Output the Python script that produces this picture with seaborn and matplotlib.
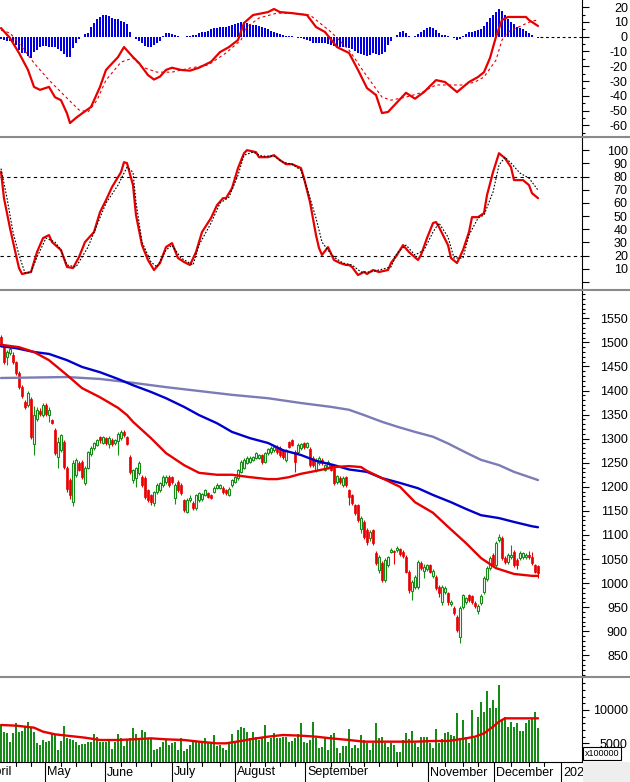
import numpy as np
import pandas as pd
import matplotlib
matplotlib.use("Agg")
import matplotlib.pyplot as plt
import seaborn as sns
from matplotlib.patches import Rectangle
from matplotlib.lines import Line2D

# ------------------------------------------------------------------ data
# daily candles (index 0 = first visible session, ~8 Apr 2022)
open_ = [1512, 1490, 1470, 1478, 1474, 1459, 1436, 1407, 1376, 1370,
         1382, 1288, 1340, 1358, 1350, 1370, 1350, 1338, 1318, 1262,
         1276, 1293, 1239, 1214, 1168, 1225, 1250, 1252, 1208, 1240,
         1268, 1280, 1287, 1303, 1291, 1301, 1289, 1298, 1290, 1296,
         1302, 1314, 1303, 1262, 1214, 1218, 1229, 1220, 1218, 1193,
         1183, 1166, 1190, 1193, 1204, 1210, 1220, 1220, 1177, 1210,
         1204, 1172, 1148, 1172, 1166, 1156, 1172, 1174, 1183, 1187,
         1183, 1190, 1198, 1198, 1198, 1193, 1183, 1204, 1210, 1218,
         1231, 1239, 1250, 1252, 1256, 1260, 1260, 1266, 1252, 1270,
         1272, 1276, 1283, 1281, 1276, 1256, 1293, 1297, 1272, 1272,
         1280, 1290, 1283, 1278, 1260, 1235, 1250, 1256, 1235, 1241,
         1245, 1240, 1210, 1218, 1204, 1220, 1193, 1183, 1162, 1162,
         1112, 1127, 1110, 1093, 1110, 1062, 1027, 1042, 1006, 1037,
         1065, 1066, 1068, 1070, 1064, 1054, 1023, 983, 992, 992,
         1042, 1025, 1030, 1037, 1014, 1013, 992, 960, 981, 979,
         956, 948, 929, 888, 950, 960, 975, 973, 958, 942,
         958, 982, 1008, 1031, 1058, 1037, 1090, 1094, 1052, 1044,
         1054, 1065, 1048, 1052, 1054, 1054, 1058, 1054, 1037, 1035]
high = [1516, 1494, 1484, 1490, 1480, 1462, 1440, 1412, 1380, 1398,
        1386, 1368, 1366, 1364, 1374, 1374, 1366, 1340, 1322, 1303,
        1310, 1298, 1243, 1218, 1256, 1259, 1254, 1256, 1243, 1275,
        1284, 1294, 1300, 1306, 1306, 1304, 1306, 1301, 1300, 1313,
        1318, 1318, 1306, 1266, 1238, 1242, 1254, 1224, 1222, 1196,
        1186, 1192, 1207, 1211, 1224, 1224, 1224, 1223, 1207, 1214,
        1208, 1175, 1176, 1182, 1170, 1186, 1190, 1188, 1196, 1190,
        1186, 1201, 1207, 1206, 1201, 1196, 1199, 1217, 1223, 1238,
        1255, 1259, 1263, 1263, 1265, 1273, 1269, 1269, 1273, 1281,
        1284, 1286, 1286, 1284, 1279, 1279, 1296, 1300, 1276, 1290,
        1292, 1293, 1294, 1282, 1263, 1259, 1263, 1259, 1248, 1256,
        1248, 1244, 1225, 1222, 1222, 1223, 1196, 1186, 1165, 1165,
        1140, 1131, 1114, 1110, 1113, 1066, 1058, 1046, 1052, 1057,
        1073, 1068, 1077, 1073, 1068, 1058, 1027, 1006, 1017, 1048,
        1046, 1040, 1040, 1040, 1030, 1016, 995, 995, 994, 982,
        964, 952, 933, 952, 978, 972, 978, 976, 962, 956,
        977, 1014, 1035, 1056, 1062, 1087, 1102, 1098, 1056, 1062,
        1079, 1068, 1052, 1066, 1065, 1062, 1066, 1065, 1040, 1038]
low = [1490, 1456, 1453, 1474, 1456, 1432, 1404, 1384, 1362, 1365,
       1300, 1266, 1336, 1348, 1346, 1348, 1334, 1330, 1266, 1240,
       1272, 1238, 1190, 1175, 1160, 1220, 1232, 1216, 1204, 1236,
       1265, 1276, 1284, 1292, 1288, 1287, 1280, 1285, 1287, 1266,
       1298, 1304, 1286, 1226, 1208, 1200, 1225, 1200, 1175, 1168,
       1162, 1160, 1186, 1190, 1200, 1206, 1200, 1206, 1165, 1190,
       1184, 1148, 1145, 1168, 1152, 1152, 1168, 1170, 1180, 1176,
       1174, 1187, 1195, 1195, 1186, 1184, 1180, 1200, 1207, 1214,
       1228, 1236, 1247, 1249, 1253, 1257, 1257, 1248, 1249, 1267,
       1269, 1273, 1268, 1262, 1258, 1252, 1280, 1284, 1230, 1268,
       1277, 1279, 1280, 1242, 1241, 1231, 1246, 1246, 1232, 1238,
       1232, 1204, 1206, 1206, 1200, 1200, 1162, 1162, 1141, 1127,
       1105, 1092, 1080, 1088, 1080, 1038, 1020, 1002, 1002, 1033,
       1062, 1040, 1064, 1056, 1052, 1020, 980, 965, 988, 988,
       1028, 1010, 1026, 1020, 1010, 985, 972, 955, 978, 955,
       952, 934, 898, 876, 946, 956, 960, 956, 948, 935,
       955, 978, 1004, 1027, 1033, 1033, 1086, 1048, 1040, 1040,
       1050, 1033, 1030, 1048, 1050, 1050, 1050, 1038, 1020, 1010]
close = [1495, 1460, 1480, 1486, 1460, 1437, 1408, 1388, 1366, 1395,
         1303, 1349, 1360, 1352, 1370, 1352, 1360, 1333, 1270, 1293,
         1307, 1241, 1195, 1183, 1250, 1256, 1235, 1220, 1239, 1272,
         1281, 1290, 1298, 1297, 1303, 1291, 1302, 1288, 1297, 1310,
         1314, 1308, 1289, 1231, 1235, 1239, 1250, 1204, 1179, 1172,
         1168, 1189, 1204, 1208, 1220, 1220, 1204, 1210, 1204, 1193,
         1187, 1152, 1172, 1177, 1156, 1183, 1187, 1185, 1193, 1179,
         1177, 1198, 1204, 1204, 1189, 1187, 1196, 1214, 1220, 1235,
         1252, 1256, 1260, 1260, 1262, 1270, 1266, 1252, 1270, 1278,
         1281, 1283, 1272, 1266, 1262, 1276, 1283, 1287, 1252, 1287,
         1289, 1282, 1290, 1245, 1245, 1256, 1260, 1250, 1245, 1252,
         1235, 1208, 1222, 1210, 1218, 1204, 1179, 1166, 1145, 1131,
         1135, 1096, 1085, 1106, 1083, 1042, 1054, 1007, 1048, 1054,
         1069, 1064, 1073, 1060, 1056, 1023, 985, 1002, 1013, 1044,
         1031, 1033, 1037, 1023, 1026, 990, 979, 992, 990, 960,
         960, 938, 902, 948, 975, 969, 965, 960, 952, 952,
         973, 1010, 1031, 1052, 1037, 1083, 1096, 1052, 1044, 1058,
         1058, 1037, 1037, 1062, 1062, 1058, 1054, 1042, 1023, 1021]
# volume, in units of 100000 shares
volume = [7750, 6750, 6500, 5250, 6500, 8000, 6750, 6850, 7500, 8250,
          7250, 6750, 5000, 4750, 5500, 5250, 5350, 6500, 6250, 4000,
          5350, 7600, 5750, 5650, 5500, 5250, 4750, 4900, 4900, 5250,
          5150, 6350, 6000, 5250, 5250, 5250, 5500, 4150, 5250, 6350,
          5750, 4650, 5500, 5850, 7350, 6350, 5750, 7000, 6650, 5750,
          5750, 4000, 4150, 4500, 5250, 5500, 4750, 5000, 5250, 4000,
          5850, 3850, 4150, 4750, 5250, 5350, 5250, 5250, 5850, 5250,
          5000, 6250, 4650, 4750, 4250, 4000, 5000, 6350, 5350, 7000,
          7500, 7250, 6650, 5750, 6750, 6000, 5500, 5750, 7750, 5250,
          5850, 6500, 5850, 5850, 6000, 6000, 5250, 5350, 5850, 6350,
          8000, 5250, 5000, 5500, 8250, 5750, 4250, 4500, 6000, 4000,
          6250, 6500, 4250, 3500, 4650, 4650, 7150, 4250, 4750, 4350,
          6250, 5500, 5000, 4000, 5000, 8000, 5750, 6000, 5000, 4500,
          5000, 4750, 3650, 3650, 5500, 6500, 5650, 6850, 5000, 4500,
          6000, 6000, 6000, 5000, 4250, 7150, 5000, 5650, 6500, 6650,
          6250, 6100, 9500, 5750, 8500, 6000, 5000, 10000, 5750, 9000,
          11250, 9650, 12850, 10250, 11500, 10250, 13750, 8500, 9000, 7500,
          8250, 7500, 8000, 6850, 6850, 8000, 8500, 8750, 9750, 7250]
# MACD histogram, one bar per session
macd_hist = [-1.8, -2.3, -2.7, -2.7, -3.4, -5.6, -9, -11.3, -11.3, -13.1,
             -14.7, -10.2, -9, -6.8, -6.3, -6.3, -6.8, -6.8, -7.2, -8.6,
             -9.5, -11.8, -13.6, -14, -7.9, -4.5, -1.8, -0.5, 1.6, 2.3,
             6.8, 9.5, 11.8, 13.6, 14.7, 14.7, 14, 12.9, 12, 11.8,
             10.8, 9.9, 8.6, 3.4, -0.5, -1.8, -2.7, -4.5, -6.3, -6.8,
             -6.8, -5.6, -4.1, -2.7, 0.5, 2.3, 2.3, 1.6, 0.9, 0.5,
             -0.5, -0.5, 0.5, 0.5, 0.9, 1.4, 2.3, 2.9, 3.4, 4.1,
             5, 5.6, 6.1, 6.3, 6.3, 6.3, 7.2, 7.9, 8.6, 9.5,
             10.2, 10.2, 9.5, 8.6, 8.1, 7.7, 7, 6.3, 5.6, 5,
             4.1, 3.2, 2.5, 1.8, 1.1, 0.5, 0.5, 0.7, 0, -0.9,
             -1.1, -1.6, -2.3, -3.2, -4.1, -4.5, -4.5, -4.1, -4.5, -5,
             -5.6, -6.3, -6.8, -6.8, -6.8, -6.8, -7.5, -8.6, -9.7, -10.8,
             -11.8, -12.7, -13.1, -12.4, -11.3, -11.8, -12.4, -11.8, -10.2, -5.6,
             -2.7, -0.5, 1.4, 2.9, 4.1, 2.3, 0.7, 0, 0.5, 1.8,
             2.9, 4.5, 5.9, 6.3, 5.9, 4.5, 2.7, 1.4, 0.9, 0.5,
             -0.5, -1.1, -2.3, -1.4, 0.5, 2, 2.9, 3.4, 3.8, 4.3,
             5, 7.2, 9.9, 12.4, 14.5, 16.5, 18.8, 17.6, 14.7, 11.8,
             9.9, 8.6, 6.8, 5.6, 5, 4.1, 2.7, 0.9, -0.5, -1.1]

# line series read at selected sessions (session index, value)
macd_idx = [0, 3, 6, 9, 11, 13, 16, 18, 20, 22, 23, 25, 27, 30, 33, 35, 39, 41, 44, 46,
            49, 51, 53, 55, 57, 60, 63, 66, 70, 73, 76, 79, 81, 84, 89, 91, 93, 97, 102, 105,
            108, 112, 116, 119, 122, 125, 127, 129, 135, 138, 141, 145, 148, 152, 156, 159, 161, 163, 165, 167,
            169, 175, 176, 179]
macd_val = [5.9, -0.9, -11, -22.5, -34, -36, -34, -41, -43, -52, -58.5, -55, -52, -47.6, -34, -22.5, -13.8, -7, -13.8, -17.8,
            -26, -29, -27, -22.5, -21, -22.5, -23, -21, -17, -10.4, -7, -2.2, 9.3, 14.7, 16.7, 18.8, 16.7, 16, 14.7, 6.6,
            3.2, -7, -11, -22.5, -34.8, -39.5, -51.7, -51, -38, -42, -37.5, -29.4, -30.7, -37.5, -30.7, -27.3, -24, -14.4, 0, 11.3,
            13.4, 13.4, 11.3, 7.3]
signal_idx = [0, 3, 6, 11, 16, 22, 26, 29, 32, 35, 40, 44, 47, 52, 57, 63, 69, 75, 80, 82,
              86, 92, 97, 103, 110, 116, 121, 127, 130, 135, 140, 145, 149, 154, 158, 161, 165, 167, 169, 174,
              177, 179]
signal_val = [4.5, 2.5, -4.3, -17.8, -29.4, -41.6, -49.6, -51, -43, -29.4, -17.2, -14.4, -20.5, -24, -24, -21.2, -19.2, -11, -2.2, 6.6,
              12.7, 16, 16, 14.7, 3.2, -9, -24, -40.9, -43, -40.9, -38, -32.7, -32.7, -32.7, -30.7, -27.3, -15.8, -2.2, 3.2, 8,
              10.6, 11.3]
stoch_k_idx = [0, 1, 3, 5, 6, 7, 10, 12, 14, 16, 17, 20, 22, 24, 26, 28, 31, 33, 35, 37,
               40, 41, 42, 44, 45, 47, 49, 51, 53, 55, 57, 59, 61, 63, 65, 67, 70, 72, 74, 75,
               77, 79, 81, 82, 85, 86, 89, 91, 93, 95, 97, 100, 101, 103, 105, 106, 107, 109, 111, 113,
               115, 116, 117, 119, 121, 122, 124, 126, 129, 130, 132, 134, 136, 139, 140, 142, 144, 145, 146, 149,
               150, 152, 154, 156, 157, 159, 161, 162, 164, 166, 168, 170, 171, 174, 176, 177, 179]
stoch_k_val = [83.6, 63.6, 40.9, 20.5, 10.6, 6.1, 7.6, 22.7, 33.3, 35.6, 30.3, 24.2, 11.4, 10.6, 18.9, 30.3, 37.9, 53, 62.1, 72,
               83.3, 90.9, 90.2, 73.5, 50.8, 28, 16.7, 9.1, 14.4, 26.5, 29.5, 18.2, 15.2, 12.9, 22.7, 37.9, 48.5, 58.3, 63.6, 63.6,
               71.2, 86.4, 97.7, 100, 98.5, 94.7, 94.7, 96.2, 92.4, 89.4, 89.4, 86.4, 78.8, 60.6, 35.6, 25.8, 20.5, 26.5, 16.7, 14.4,
               12.9, 12.9, 11.4, 5.3, 7.6, 6.1, 9.1, 7.6, 9.1, 14.4, 20.5, 28, 22.7, 16.7, 20.5, 33.3, 44.7, 45.5, 41.7, 28,
               18.2, 14.4, 24.2, 37.9, 49.2, 49.2, 52.3, 65.9, 83.3, 97.7, 93.9, 87.1, 77.3, 77.3, 73.5, 67.4, 63.6]
stoch_d_idx = [0, 2, 4, 6, 8, 10, 12, 15, 18, 20, 22, 25, 29, 32, 35, 39, 42, 44, 45, 47,
               50, 52, 55, 57, 60, 64, 66, 70, 73, 76, 79, 81, 84, 87, 91, 94, 97, 100, 102, 105,
               107, 109, 111, 114, 117, 120, 123, 126, 130, 132, 135, 138, 141, 144, 146, 149, 151, 154, 156, 159,
               161, 164, 166, 168, 170, 173, 176, 179]
stoch_d_val = [86, 63.6, 37.9, 20.5, 6.8, 7.6, 18.9, 33.3, 30.3, 24.2, 12.9, 11.4, 26.5, 43.2, 59.8, 73.5, 87.1, 83.3, 60.6, 30.3,
               15.2, 11.4, 24.2, 28, 18.2, 12.9, 28, 44.7, 59.8, 64.4, 81, 96.2, 98.5, 95.5, 95.5, 90.9, 89.4, 84.8, 71.2, 48.5,
               30.3, 24.2, 18.9, 14.4, 12.9, 7.6, 7.6, 9.1, 11.4, 22, 28, 20.5, 24.2, 37.9, 44.7, 34.1, 18.2, 18.2, 35.6, 48.5,
               50.8, 68.2, 88.6, 94.7, 90.2, 82.6, 78.8, 69.7]
ma_short_idx = [0, 6, 11, 16, 22, 27, 33, 39, 42, 44, 50, 55, 61, 66, 72, 77, 83, 89, 92, 96,
                100, 105, 111, 116, 120, 122, 127, 133, 138, 144, 149, 155, 160, 165, 171, 177, 179]
ma_short_val = [1495, 1490, 1480, 1463, 1432, 1405, 1386, 1364, 1349, 1335, 1301, 1270, 1245, 1229, 1225, 1225, 1220, 1216, 1216, 1220,
                1227, 1233, 1241, 1243, 1241, 1233, 1218, 1200, 1168, 1146, 1117, 1083, 1052, 1031, 1019, 1015, 1015]
ma_mid_idx = [0, 5, 11, 16, 22, 27, 33, 39, 44, 50, 55, 61, 66, 72, 77, 83, 89, 94, 100, 105,
              111, 116, 122, 127, 133, 139, 144, 150, 155, 160, 166, 171, 177, 179]
ma_mid_val = [1492, 1488, 1480, 1476, 1463, 1449, 1438, 1424, 1411, 1397, 1384, 1366, 1349, 1332, 1314, 1301, 1291, 1276, 1266, 1254,
              1245, 1236, 1231, 1218, 1208, 1197, 1183, 1168, 1154, 1141, 1135, 1127, 1118, 1116]
ma_long_idx = [0, 22, 33, 44, 55, 66, 77, 89, 100, 110, 116, 121, 127, 132, 138, 144, 149, 155, 160, 166, 171, 179]
ma_long_val = [1426, 1428, 1424, 1416, 1407, 1399, 1391, 1384, 1374, 1366, 1360, 1349, 1335, 1325, 1314, 1304, 1290, 1271, 1256, 1245, 1231, 1214]
vol_ma_idx = [0, 5, 11, 14, 18, 22, 28, 33, 39, 44, 50, 55, 61, 66, 72, 75, 80, 83, 89, 94,
              100, 105, 110, 116, 121, 127, 133, 138, 144, 149, 155, 158, 161, 164, 166, 168, 171, 177, 179]
vol_ma_val = [7750, 7650, 7350, 6750, 6350, 6150, 5850, 5500, 5500, 5600, 5750, 5600, 5500, 5250, 5000, 5000, 5350, 5600, 6000, 6250,
              6150, 6000, 5750, 5500, 5250, 5250, 5250, 5250, 5350, 5350, 5750, 6000, 6500, 7500, 8250, 8750, 8750, 8750, 8750]

# x axis: month boundaries in session units, and labels
month_pos = [-5.33, 14.67, 34.67, 57.0, 78.0, 101.33, 142.33, 164.33, 186.67]
month_labels = ["April", "May", "June", "July", "August", "September", "November", "December", "2023"]
week_pos = [5, 10, 20, 25, 30, 40, 45, 50, 62, 67, 73, 83, 88, 93, 98, 110, 116, 121, 126, 132,
            137, 148, 154, 159, 170, 176, 181]

# ------------------------------------------------------------------ style
sns.set_style("white")
plt.rcParams['font.family'] = ['Liberation Sans', 'DejaVu Sans']
plt.rcParams['axes.linewidth'] = 0.8

RED = '#e80000'
GREEN = '#168c16'
BLUE = '#0000cc'
HIST_BLUE = '#0000e0'
SLATE = '#7b7bb6'

W, H = 630, 782
fig = plt.figure(figsize=(W / 100, H / 100), dpi=100)
fig.patch.set_facecolor('white')


def rect(top, bottom):
    return [0, 1 - bottom / H, 582 / W, (bottom - top) / H]


ax_macd = fig.add_axes(rect(0, 135))
ax_sto = fig.add_axes(rect(137, 289))
ax_px = fig.add_axes(rect(291, 676))
ax_vol = fig.add_axes(rect(678, 762))
axes = [ax_macd, ax_sto, ax_px, ax_vol]

XMIN, XMAX = -1 / 3, 581 / 3
idx = np.arange(len(close))


def line(ax, xs, ys, color, lw, ls='-', z=4):
    sns.lineplot(x=xs, y=ys, ax=ax, estimator=None, sort=False, legend=False,
                 color=color, linewidth=lw, zorder=z)
    ax.lines[-1].set_linestyle(ls)


# ---- MACD panel
ax_macd.bar(idx, macd_hist, width=0.62, color=HIST_BLUE, linewidth=0, zorder=2)
line(ax_macd, signal_idx, signal_val, RED, 0.8, (0, (2.5, 2.5)), 3)
line(ax_macd, macd_idx, macd_val, RED, 1.6, '-', 4)
ax_macd.plot([len(close) - 0.5, XMAX], [0, 0], color='black', lw=0.8, ls=(0, (2.5, 2.5)), zorder=1)
ax_macd.set_ylim(-66.6, 24.9)

# ---- Stochastic panel
for lv in (80, 20):
    ax_sto.axhline(lv, color='black', lw=0.8, ls=(0, (3, 3)), zorder=1)
line(ax_sto, stoch_k_idx, stoch_k_val, RED, 1.6, '-', 3)
line(ax_sto, stoch_d_idx, stoch_d_val, 'black', 0.8, (0, (1.5, 1.5)), 4)
ax_sto.set_ylim(-5.3, 109.8)

# ---- Price panel
o = np.array(open_, float)
h = np.array(high, float)
lo = np.array(low, float)
c = np.array(close, float)
up = c > o
ax_px.vlines(idx[up], lo[up], h[up], color=GREEN, lw=0.8, zorder=2)
ax_px.vlines(idx[~up], lo[~up], h[~up], color=RED, lw=0.8, zorder=2)
ax_px.bar(idx[up], c[up] - o[up], bottom=o[up], width=0.68, facecolor='white',
          edgecolor=GREEN, linewidth=0.8, zorder=3)
ax_px.bar(idx[~up], o[~up] - c[~up], bottom=c[~up], width=0.68, facecolor=RED,
          edgecolor=RED, linewidth=0.5, zorder=3)
line(ax_px, ma_long_idx, ma_long_val, SLATE, 1.7, '-', 4)
line(ax_px, ma_mid_idx, ma_mid_val, BLUE, 1.7, '-', 5)
line(ax_px, ma_short_idx, ma_short_val, RED, 1.7, '-', 6)
ax_px.set_ylim(807, 1606.7)

# ---- Volume panel
ax_vol.bar(idx, volume, width=0.62, color=GREEN, linewidth=0, zorder=2)
line(ax_vol, vol_ma_idx, vol_ma_val, RED, 1.7, '-', 4)
ax_vol.set_ylim(2200, 14800)


# ---- axes cosmetics
def right_axis(ax, major, labels, minor):
    ax.set_xlim(XMIN, XMAX)
    ax.set_xticks([])
    ax.set_xlabel('')
    ax.set_ylabel('')
    ax.yaxis.tick_right()
    ax.set_yticks(major)
    ax.set_yticklabels(labels)
    ax.set_yticks(minor, minor=True)
    ax.tick_params(axis='y', which='major', right=True, left=False, direction='out',
                   length=5, width=0.8, colors='black', labelsize=9, pad=28)
    ax.tick_params(axis='y', which='minor', right=True, left=False, direction='out',
                   length=2.5, width=0.8, colors='black')
    for t in ax.get_yticklabels():
        t.set_horizontalalignment('right')
    for s in ('left', 'top', 'bottom'):
        ax.spines[s].set_visible(False)
    ax.spines['right'].set_color('black')
    ax.spines['right'].set_linewidth(0.8)
    ax.set_facecolor('white')


mm = list(range(-60, 30, 10))
right_axis(ax_macd, mm, [str(v) for v in mm], list(range(-65, 25, 5)))
sm = list(range(0, 120, 10))
right_axis(ax_sto, sm, ['' if v in (0, 110) else str(v) for v in sm], [])
pm = list(range(850, 1600, 50))
right_axis(ax_px, pm, [str(v) for v in pm], list(range(810, 1610, 10)))
right_axis(ax_vol, [5000, 10000], ['5000', '10000'], list(range(3000, 15000, 1000)))

# bottom time axis
ax_vol.spines['bottom'].set_visible(True)
ax_vol.spines['bottom'].set_color('black')
ax_vol.spines['bottom'].set_linewidth(0.8)
tr = ax_vol.get_xaxis_transform()
row = 20 / 84.0
for p in month_pos:
    ax_vol.plot([p, p], [0, -row], transform=tr, color='black', lw=0.8, clip_on=False)
for p in week_pos:
    ax_vol.plot([p, p], [0, -4 / 84.0], transform=tr, color='black', lw=0.8, clip_on=False)
for p, lab in zip(month_pos, month_labels):
    ax_vol.text(p + 0.7, -10.5 / 84.0, lab, transform=tr, ha='left', va='center',
                fontsize=9, color='black', clip_on=False)

# panel separators spanning the full width
for ypx in (136.5, 290.0, 677.0):
    fig.add_artist(Line2D([0, 1], [1 - ypx / H, 1 - ypx / H], transform=fig.transFigure,
                          color='#8a8a8a', lw=1.5, zorder=8))

# grey corner and unit box
fig.add_artist(Rectangle((582.5 / W, 0), (W - 582.5) / W, 20 / H, transform=fig.transFigure,
                         facecolor='#eeeeee', edgecolor='none', zorder=9))
fig.text(585 / W, 1 - 753.5 / H, 'x100000', fontsize=6.5, ha='left', va='center', color='black',
         bbox=dict(boxstyle='square,pad=0.18', facecolor='white', edgecolor='black', linewidth=0.8),
         zorder=10)

fig.savefig('out.png', dpi=100, facecolor='white')
